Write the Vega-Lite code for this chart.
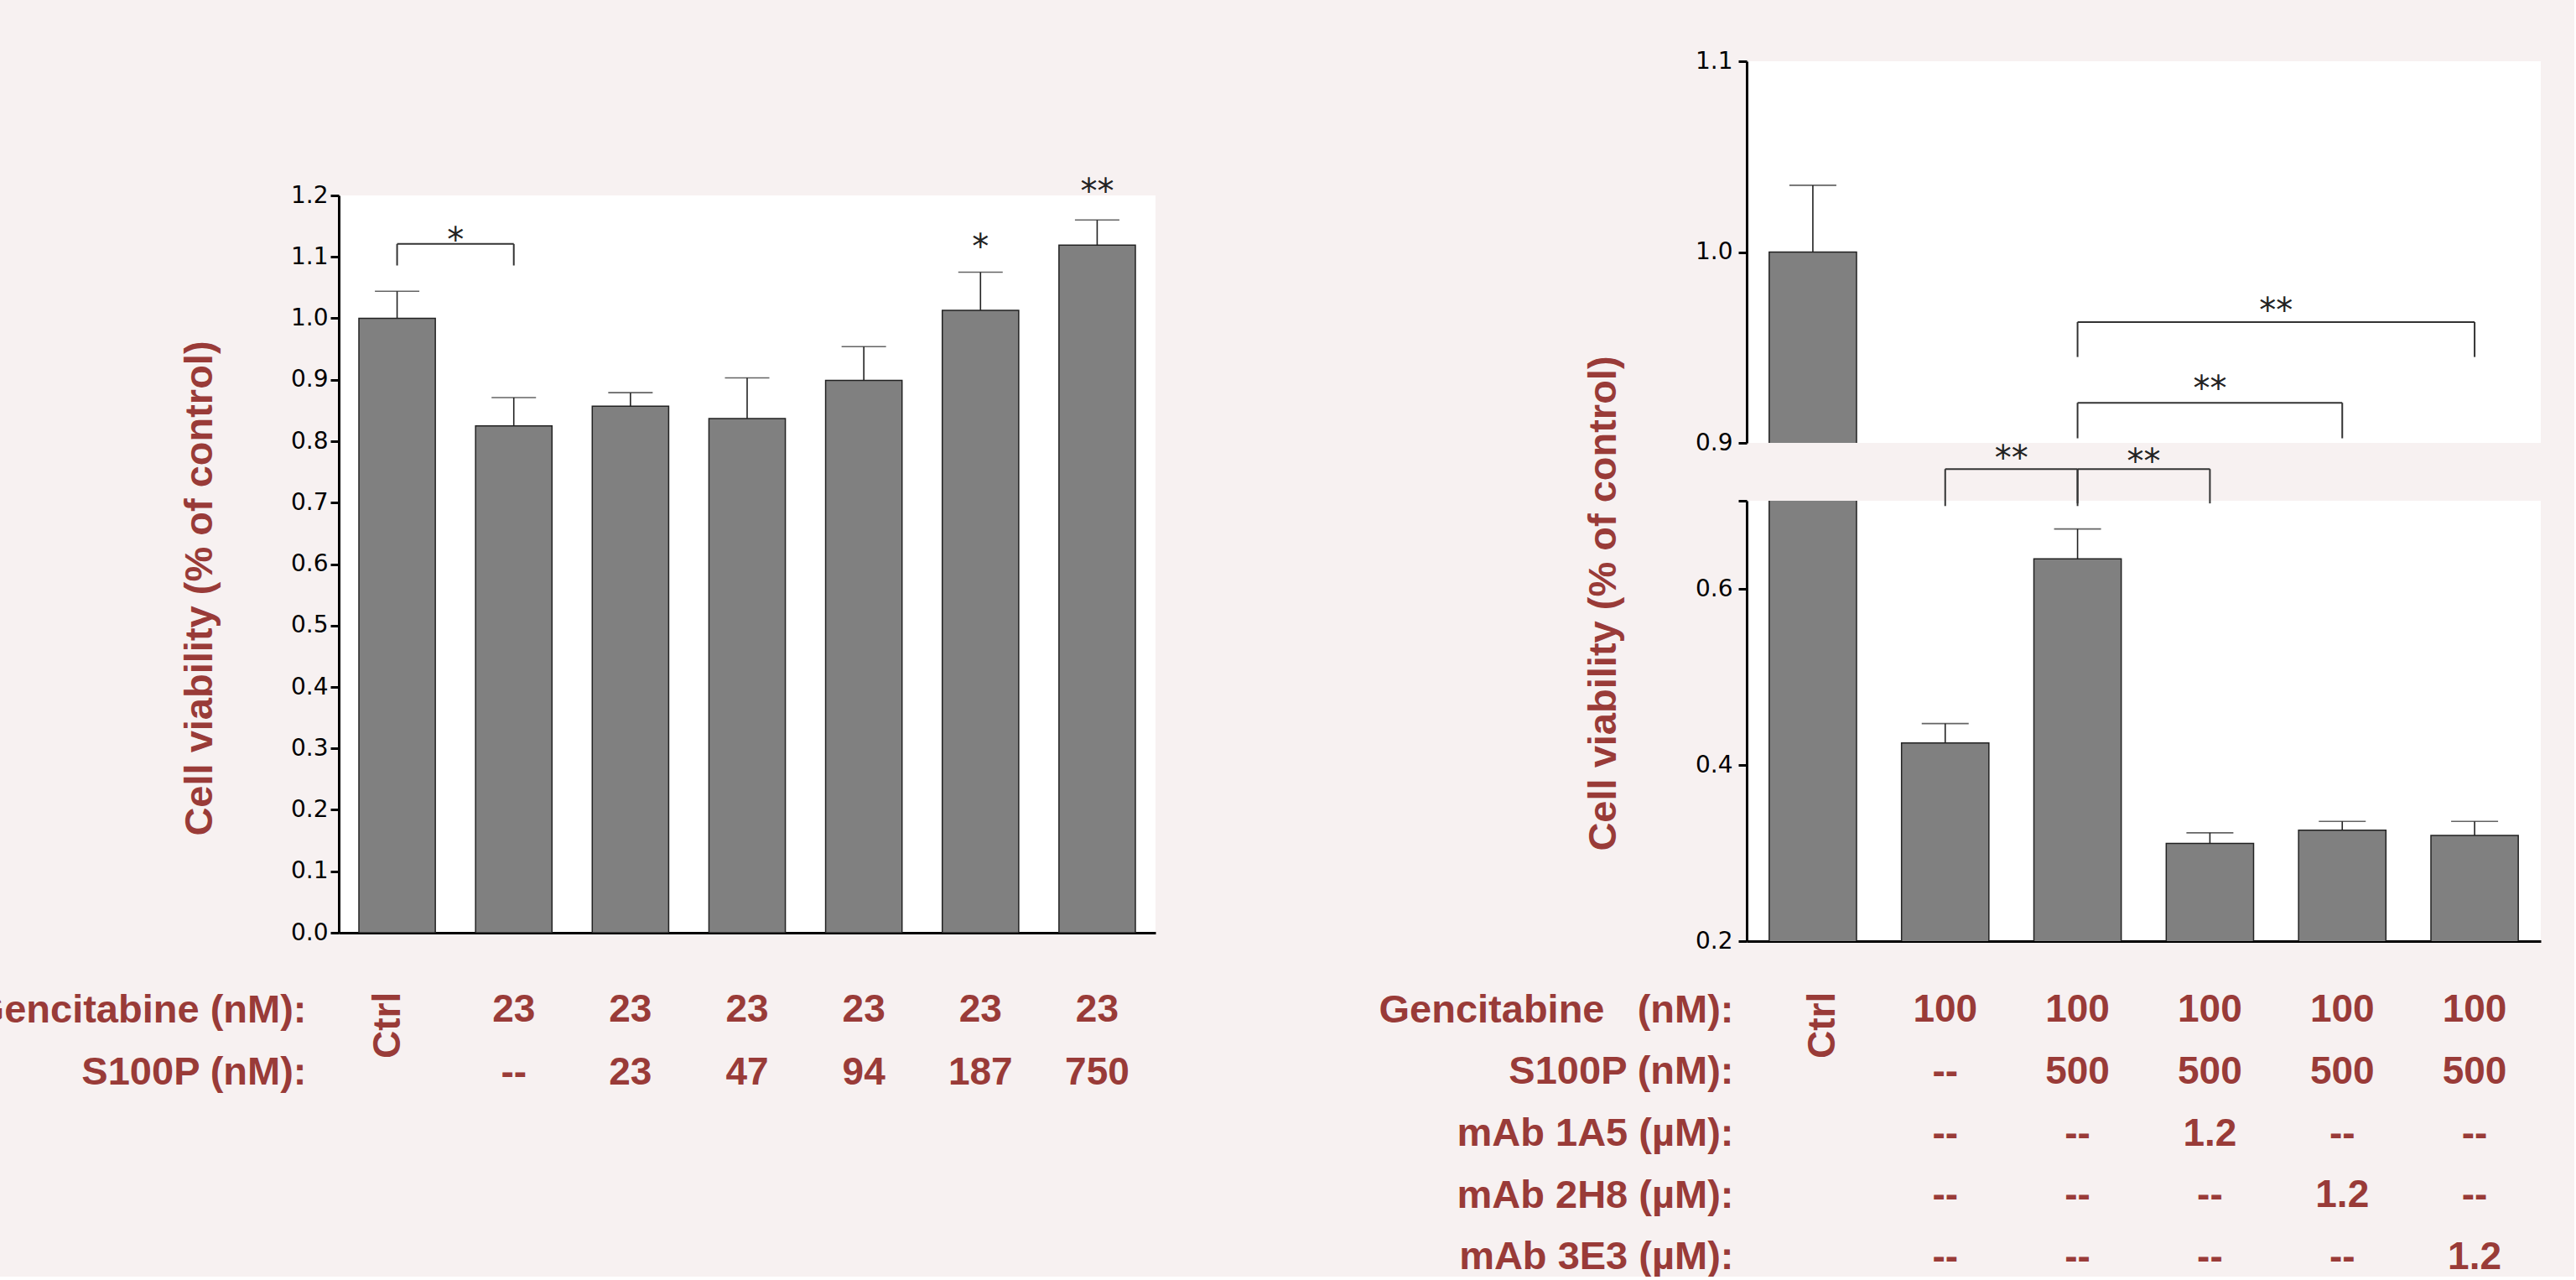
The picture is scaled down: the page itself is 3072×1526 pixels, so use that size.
{
  "$schema": "https://vega.github.io/schema/vega-lite/v6.json",
  "background": "#f7f1f1",
  "padding": {"left": -32, "top": 59, "right": 40, "bottom": 0},
  "config": {
    "view": {"stroke": null},
    "axis": {"domainColor": "black", "domainWidth": 3, "tickColor": "black", "tickWidth": 3, "tickSize": 10, "labelFont": "DejaVu Sans", "labelFontSize": 28, "labelColor": "black", "grid": false, "titleFont": "Liberation Sans", "titleFontWeight": "bold", "titleFontSize": 47, "titleColor": "#993b38"},
    "text": {"font": "Liberation Sans"}
  },
  "datasets": {
    "L": [
      {"g": "Ctrl", "v": 1.0, "hi": 1.044},
      {"g": "G23", "v": 0.825, "hi": 0.871},
      {"g": "G23S23", "v": 0.857, "hi": 0.879},
      {"g": "G23S47", "v": 0.837, "hi": 0.903},
      {"g": "G23S94", "v": 0.899, "hi": 0.954},
      {"g": "G23S187", "v": 1.013, "hi": 1.075},
      {"g": "G23S750", "v": 1.119, "hi": 1.160}
    ],
    "LB": [{"a": "Ctrl", "b": "G23", "top": 1.121, "leg": 1.086}],
    "LA": [
      {"at": "Ctrl", "y": 1.109, "t": "*", "pos": "between"},
      {"at": "G23S187", "y": 1.097, "t": "*", "pos": "on"},
      {"at": "G23S750", "y": 1.188, "t": "**", "pos": "on"}
    ],
    "LT": [
      {"g": "G23", "row": "Gencitabine (nM):", "t": "23"},
      {"g": "G23S23", "row": "Gencitabine (nM):", "t": "23"},
      {"g": "G23S47", "row": "Gencitabine (nM):", "t": "23"},
      {"g": "G23S94", "row": "Gencitabine (nM):", "t": "23"},
      {"g": "G23S187", "row": "Gencitabine (nM):", "t": "23"},
      {"g": "G23S750", "row": "Gencitabine (nM):", "t": "23"},
      {"g": "G23", "row": "S100P (nM):", "t": "--"},
      {"g": "G23S23", "row": "S100P (nM):", "t": "23"},
      {"g": "G23S47", "row": "S100P (nM):", "t": "47"},
      {"g": "G23S94", "row": "S100P (nM):", "t": "94"},
      {"g": "G23S187", "row": "S100P (nM):", "t": "187"},
      {"g": "G23S750", "row": "S100P (nM):", "t": "750"}
    ],
    "R": [
      {"g": "Ctrl", "v": 1.0, "hi": 1.035},
      {"g": "G100", "v": 0.425, "hi": 0.447},
      {"g": "G100S500", "v": 0.634, "hi": 0.668},
      {"g": "A1A5", "v": 0.311, "hi": 0.323},
      {"g": "A2H8", "v": 0.326, "hi": 0.336},
      {"g": "A3E3", "v": 0.320, "hi": 0.336}
    ],
    "RBup": [
      {"a": "G100S500", "b": "A2H8", "top": 0.921, "leg": 0.9024},
      {"a": "G100S500", "b": "A3E3", "top": 0.9633, "leg": 0.945}
    ],
    "RBlow": [
      {"a": "G100", "b": "G100S500", "top": 0.736, "leg": 0.694},
      {"a": "G100S500", "b": "A1A5", "top": 0.736, "leg": 0.697}
    ],
    "RAup": [
      {"at": "A1A5", "y": 0.9222, "t": "**", "pos": "on"},
      {"at": "A1A5", "y": 0.9635, "t": "**", "pos": "between"}
    ],
    "RAlow": [
      {"at": "G100", "y": 0.7356, "t": "**", "pos": "between"},
      {"at": "G100S500", "y": 0.7318, "t": "**", "pos": "between"}
    ],
    "RT": [
      {"g": "G100", "row": "Gencitabine\u00a0\u00a0\u00a0(nM):", "t": "100"},
      {"g": "G100S500", "row": "Gencitabine\u00a0\u00a0\u00a0(nM):", "t": "100"},
      {"g": "A1A5", "row": "Gencitabine\u00a0\u00a0\u00a0(nM):", "t": "100"},
      {"g": "A2H8", "row": "Gencitabine\u00a0\u00a0\u00a0(nM):", "t": "100"},
      {"g": "A3E3", "row": "Gencitabine\u00a0\u00a0\u00a0(nM):", "t": "100"},
      {"g": "G100", "row": "S100P (nM):", "t": "--"},
      {"g": "G100S500", "row": "S100P (nM):", "t": "500"},
      {"g": "A1A5", "row": "S100P (nM):", "t": "500"},
      {"g": "A2H8", "row": "S100P (nM):", "t": "500"},
      {"g": "A3E3", "row": "S100P (nM):", "t": "500"},
      {"g": "G100", "row": "mAb 1A5 (µM):", "t": "--"},
      {"g": "G100S500", "row": "mAb 1A5 (µM):", "t": "--"},
      {"g": "A1A5", "row": "mAb 1A5 (µM):", "t": "1.2"},
      {"g": "A2H8", "row": "mAb 1A5 (µM):", "t": "--"},
      {"g": "A3E3", "row": "mAb 1A5 (µM):", "t": "--"},
      {"g": "G100", "row": "mAb 2H8 (µM):", "t": "--"},
      {"g": "G100S500", "row": "mAb 2H8 (µM):", "t": "--"},
      {"g": "A1A5", "row": "mAb 2H8 (µM):", "t": "--"},
      {"g": "A2H8", "row": "mAb 2H8 (µM):", "t": "1.2"},
      {"g": "A3E3", "row": "mAb 2H8 (µM):", "t": "--"},
      {"g": "G100", "row": "mAb 3E3 (µM):", "t": "--"},
      {"g": "G100S500", "row": "mAb 3E3 (µM):", "t": "--"},
      {"g": "A1A5", "row": "mAb 3E3 (µM):", "t": "--"},
      {"g": "A2H8", "row": "mAb 3E3 (µM):", "t": "--"},
      {"g": "A3E3", "row": "mAb 3E3 (µM):", "t": "1.2"}
    ]
  },
  "hconcat": [
    {
      "vconcat": [
        {
          "width": 974, "height": 100,
          "view": {"fill": "#f7f1f1", "stroke": null},
          "data": {"values": [{"t": ""}]},
          "mark": {"type": "text"},
          "encoding": {"text": {"field": "t"}}
        },
        {
          "vconcat": [
            {
              "width": 974, "height": 879,
              "view": {"fill": "white", "stroke": null},
              "layer": [
                {
                  "data": {"name": "L"},
                  "mark": {"type": "bar", "width": {"band": 0.655}, "fill": "#808080", "stroke": "#222222", "strokeWidth": 1.5},
                  "encoding": {
                    "x": {"field": "g", "type": "nominal", "scale": {"domain": ["Ctrl", "G23", "G23S23", "G23S47", "G23S94", "G23S187", "G23S750"], "paddingInner": 0, "paddingOuter": 0}, "axis": {"title": null, "labels": false, "ticks": false}},
                    "y": {"field": "v", "type": "quantitative", "scale": {"domain": [0, 1.2], "nice": false}, "axis": {"title": "Cell viability (% of control)", "values": [0, 0.1, 0.2, 0.3, 0.4, 0.5, 0.6, 0.7, 0.8, 0.9, 1.0, 1.1, 1.2], "format": ".1f", "labelPadding": 3, "titleX": -142, "titleY": 468}}
                  }
                },
                {
                  "data": {"name": "L"},
                  "mark": {"type": "rule", "color": "#222222", "strokeWidth": 1.6},
                  "encoding": {
                    "x": {"field": "g", "type": "nominal"},
                    "y": {"field": "v", "type": "quantitative"},
                    "y2": {"field": "hi"}
                  }
                },
                {
                  "data": {"name": "L"},
                  "mark": {"type": "tick", "size": 53, "thickness": 1.6, "color": "#222222"},
                  "encoding": {
                    "x": {"field": "g", "type": "nominal"},
                    "y": {"field": "hi", "type": "quantitative"}
                  }
                },
                {
                  "data": {"name": "LB"},
                  "mark": {"type": "rule", "color": "#333333", "strokeWidth": 2},
                  "encoding": {
                    "x": {"field": "a", "type": "nominal"},
                    "x2": {"field": "b"},
                    "y": {"field": "top", "type": "quantitative"}
                  }
                },
                {
                  "data": {"name": "LB"},
                  "mark": {"type": "rule", "color": "#333333", "strokeWidth": 2},
                  "encoding": {
                    "x": {"field": "a", "type": "nominal"},
                    "y": {"field": "top", "type": "quantitative"},
                    "y2": {"field": "leg"}
                  }
                },
                {
                  "data": {"name": "LB"},
                  "mark": {"type": "rule", "color": "#333333", "strokeWidth": 2},
                  "encoding": {
                    "x": {"field": "b", "type": "nominal"},
                    "y": {"field": "top", "type": "quantitative"},
                    "y2": {"field": "leg"}
                  }
                },
                {
                  "data": {"name": "LA"},
                  "transform": [{"filter": "datum.pos === 'between'"}],
                  "mark": {"type": "text", "font": "DejaVu Sans", "fontSize": 40, "color": "#222222", "baseline": "alphabetic"},
                  "encoding": {
                    "x": {"field": "at", "type": "nominal", "bandPosition": 1},
                    "y": {"field": "y", "type": "quantitative"},
                    "text": {"field": "t"}
                  }
                },
                {
                  "data": {"name": "LA"},
                  "transform": [{"filter": "datum.pos === 'on'"}],
                  "mark": {"type": "text", "font": "DejaVu Sans", "fontSize": 40, "color": "#222222", "baseline": "alphabetic"},
                  "encoding": {
                    "x": {"field": "at", "type": "nominal"},
                    "y": {"field": "y", "type": "quantitative"},
                    "text": {"field": "t"}
                  }
                }
              ]
            },
            {
              "width": 974, "height": 89,
              "layer": [
                {
                  "data": {"name": "LT"},
                  "mark": {"type": "text", "font": "Liberation Sans", "fontWeight": "bold", "fontSize": 46, "color": "#993b38", "baseline": "alphabetic"},
                  "encoding": {
                    "x": {"field": "g", "type": "nominal", "scale": {"type": "band", "domain": ["Ctrl", "G23", "G23S23", "G23S47", "G23S94", "G23S187", "G23S750"], "paddingInner": 0, "paddingOuter": 0}, "axis": null},
                    "y": {"field": "row", "type": "nominal", "scale": {"type": "point", "domain": ["Gencitabine (nM):", "S100P (nM):"], "padding": 0.1}, "axis": {"title": null, "domain": false, "ticks": false, "tickSize": 0, "labelPadding": 39, "labelFont": "Liberation Sans", "labelFontWeight": "bold", "labelFontSize": 47, "labelColor": "#993b38", "labelBaseline": "alphabetic", "labelLimit": 1000}},
                    "text": {"field": "t"}
                  }
                },
                {
                  "data": {"values": [{"g": "Ctrl", "row": "Gencitabine (nM):", "t": "Ctrl"}]},
                  "mark": {"type": "text", "font": "Liberation Sans", "fontWeight": "bold", "fontSize": 46, "color": "#993b38", "angle": 270, "baseline": "middle", "dx": -4, "dy": -11},
                  "encoding": {
                    "x": {"field": "g", "type": "nominal", "axis": null},
                    "y": {"field": "row", "type": "nominal"},
                    "text": {"field": "t"}
                  }
                }
              ]
            }
          ],
          "spacing": 99,
          "bounds": "flush"
        }
      ],
      "spacing": 60,
      "bounds": "flush"
    },
    {
      "vconcat": [
        {
          "width": 947, "height": 455,
          "view": {"fill": "white", "stroke": null},
          "layer": [
            {
              "data": {"name": "R"},
              "mark": {"type": "bar", "width": {"band": 0.66}, "fill": "#808080", "stroke": "#222222", "strokeWidth": 1.5, "clip": true},
              "encoding": {
                "x": {"field": "g", "type": "nominal", "scale": {"domain": ["Ctrl", "G100", "G100S500", "A1A5", "A2H8", "A3E3"], "paddingInner": 0, "paddingOuter": 0}, "axis": null},
                "y": {"field": "v", "type": "quantitative", "scale": {"domain": [0.9, 1.1], "nice": false, "zero": false}, "axis": {"title": null, "values": [0.9, 1.0, 1.1], "format": ".1f", "labelPadding": 7}}
              }
            },
            {
              "data": {"name": "R"},
              "mark": {"type": "rule", "color": "#222222", "strokeWidth": 1.6, "clip": true},
              "encoding": {
                "x": {"field": "g", "type": "nominal", "axis": null},
                "y": {"field": "v", "type": "quantitative"},
                "y2": {"field": "hi"}
              }
            },
            {
              "data": {"name": "R"},
              "mark": {"type": "tick", "size": 56, "thickness": 1.6, "color": "#222222", "clip": true},
              "encoding": {
                "x": {"field": "g", "type": "nominal", "axis": null},
                "y": {"field": "hi", "type": "quantitative"}
              }
            },
            {
              "data": {"name": "RBup"},
              "mark": {"type": "rule", "color": "#333333", "strokeWidth": 2},
              "encoding": {
                "x": {"field": "a", "type": "nominal", "axis": null},
                "x2": {"field": "b"},
                "y": {"field": "top", "type": "quantitative"}
              }
            },
            {
              "data": {"name": "RBup"},
              "mark": {"type": "rule", "color": "#333333", "strokeWidth": 2},
              "encoding": {
                "x": {"field": "a", "type": "nominal", "axis": null},
                "y": {"field": "top", "type": "quantitative"},
                "y2": {"field": "leg"}
              }
            },
            {
              "data": {"name": "RBup"},
              "mark": {"type": "rule", "color": "#333333", "strokeWidth": 2},
              "encoding": {
                "x": {"field": "b", "type": "nominal", "axis": null},
                "y": {"field": "top", "type": "quantitative"},
                "y2": {"field": "leg"}
              }
            },
            {
              "data": {"name": "RAup"},
              "transform": [{"filter": "datum.pos === 'between'"}],
              "mark": {"type": "text", "font": "DejaVu Sans", "fontSize": 40, "color": "#222222", "baseline": "alphabetic"},
              "encoding": {
                "x": {"field": "at", "type": "nominal", "bandPosition": 1, "axis": null},
                "y": {"field": "y", "type": "quantitative"},
                "text": {"field": "t"}
              }
            },
            {
              "data": {"name": "RAup"},
              "transform": [{"filter": "datum.pos === 'on'"}],
              "mark": {"type": "text", "font": "DejaVu Sans", "fontSize": 40, "color": "#222222", "baseline": "alphabetic"},
              "encoding": {
                "x": {"field": "at", "type": "nominal", "axis": null},
                "y": {"field": "y", "type": "quantitative"},
                "text": {"field": "t"}
              }
            }
          ]
        },
        {
          "vconcat": [
            {
              "width": 947, "height": 525,
              "view": {"fill": "white", "stroke": null},
              "layer": [
                {
                  "data": {"name": "R"},
                  "mark": {"type": "bar", "width": {"band": 0.66}, "fill": "#808080", "stroke": "#222222", "strokeWidth": 1.5, "clip": true},
                  "encoding": {
                    "x": {"field": "g", "type": "nominal", "scale": {"domain": ["Ctrl", "G100", "G100S500", "A1A5", "A2H8", "A3E3"], "paddingInner": 0, "paddingOuter": 0}, "axis": {"title": null, "labels": false, "ticks": false}},
                    "y": {"field": "v", "type": "quantitative", "scale": {"domain": [0.2, 0.7], "nice": false, "zero": false}, "axis": {"title": "Cell viability (% of control)", "values": [0.2, 0.4, 0.6, 0.7], "labelExpr": "datum.value > 0.65 ? '' : format(datum.value, '.1f')", "labelPadding": 7, "titleX": -147, "titleY": 122}}
                  }
                },
                {
                  "data": {"name": "R"},
                  "mark": {"type": "rule", "color": "#222222", "strokeWidth": 1.6, "clip": true},
                  "encoding": {
                    "x": {"field": "g", "type": "nominal"},
                    "y": {"field": "v", "type": "quantitative"},
                    "y2": {"field": "hi"}
                  }
                },
                {
                  "data": {"name": "R"},
                  "mark": {"type": "tick", "size": 56, "thickness": 1.6, "color": "#222222", "clip": true},
                  "encoding": {
                    "x": {"field": "g", "type": "nominal"},
                    "y": {"field": "hi", "type": "quantitative"}
                  }
                },
                {
                  "data": {"name": "RBlow"},
                  "mark": {"type": "rule", "color": "#333333", "strokeWidth": 2},
                  "encoding": {
                    "x": {"field": "a", "type": "nominal"},
                    "x2": {"field": "b"},
                    "y": {"field": "top", "type": "quantitative"}
                  }
                },
                {
                  "data": {"name": "RBlow"},
                  "mark": {"type": "rule", "color": "#333333", "strokeWidth": 2},
                  "encoding": {
                    "x": {"field": "a", "type": "nominal"},
                    "y": {"field": "top", "type": "quantitative"},
                    "y2": {"field": "leg"}
                  }
                },
                {
                  "data": {"name": "RBlow"},
                  "mark": {"type": "rule", "color": "#333333", "strokeWidth": 2},
                  "encoding": {
                    "x": {"field": "b", "type": "nominal"},
                    "y": {"field": "top", "type": "quantitative"},
                    "y2": {"field": "leg"}
                  }
                },
                {
                  "data": {"name": "RAlow"},
                  "mark": {"type": "text", "font": "DejaVu Sans", "fontSize": 40, "color": "#222222", "baseline": "alphabetic"},
                  "encoding": {
                    "x": {"field": "at", "type": "nominal", "bandPosition": 1},
                    "y": {"field": "y", "type": "quantitative"},
                    "text": {"field": "t"}
                  }
                }
              ]
            },
            {
              "width": 947, "height": 309,
              "layer": [
                {
                  "data": {"name": "RT"},
                  "mark": {"type": "text", "font": "Liberation Sans", "fontWeight": "bold", "fontSize": 46, "color": "#993b38", "baseline": "alphabetic"},
                  "encoding": {
                    "x": {"field": "g", "type": "nominal", "scale": {"type": "band", "domain": ["Ctrl", "G100", "G100S500", "A1A5", "A2H8", "A3E3"], "paddingInner": 0, "paddingOuter": 0}, "axis": null},
                    "y": {"field": "row", "type": "nominal", "scale": {"type": "point", "domain": ["Gencitabine\u00a0\u00a0\u00a0(nM):", "S100P (nM):", "mAb 1A5 (µM):", "mAb 2H8 (µM):", "mAb 3E3 (µM):"], "padding": 0.1}, "axis": {"title": null, "domain": false, "ticks": false, "tickSize": 0, "labelPadding": 16, "labelFont": "Liberation Sans", "labelFontWeight": "bold", "labelFontSize": 47, "labelColor": "#993b38", "labelBaseline": "alphabetic", "labelLimit": 1000}},
                    "text": {"field": "t"}
                  }
                },
                {
                  "data": {"values": [{"g": "Ctrl", "row": "Gencitabine\u00a0\u00a0\u00a0(nM):", "t": "Ctrl"}]},
                  "mark": {"type": "text", "font": "Liberation Sans", "fontWeight": "bold", "fontSize": 46, "color": "#993b38", "angle": 270, "baseline": "middle", "dx": -4, "dy": 12},
                  "encoding": {
                    "x": {"field": "g", "type": "nominal", "axis": null},
                    "y": {"field": "row", "type": "nominal"},
                    "text": {"field": "t"}
                  }
                }
              ]
            }
          ],
          "spacing": 89,
          "bounds": "flush"
        }
      ],
      "spacing": 69,
      "bounds": "flush"
    }
  ],
  "spacing": 266,
  "align": "none",
  "bounds": "full"
}
